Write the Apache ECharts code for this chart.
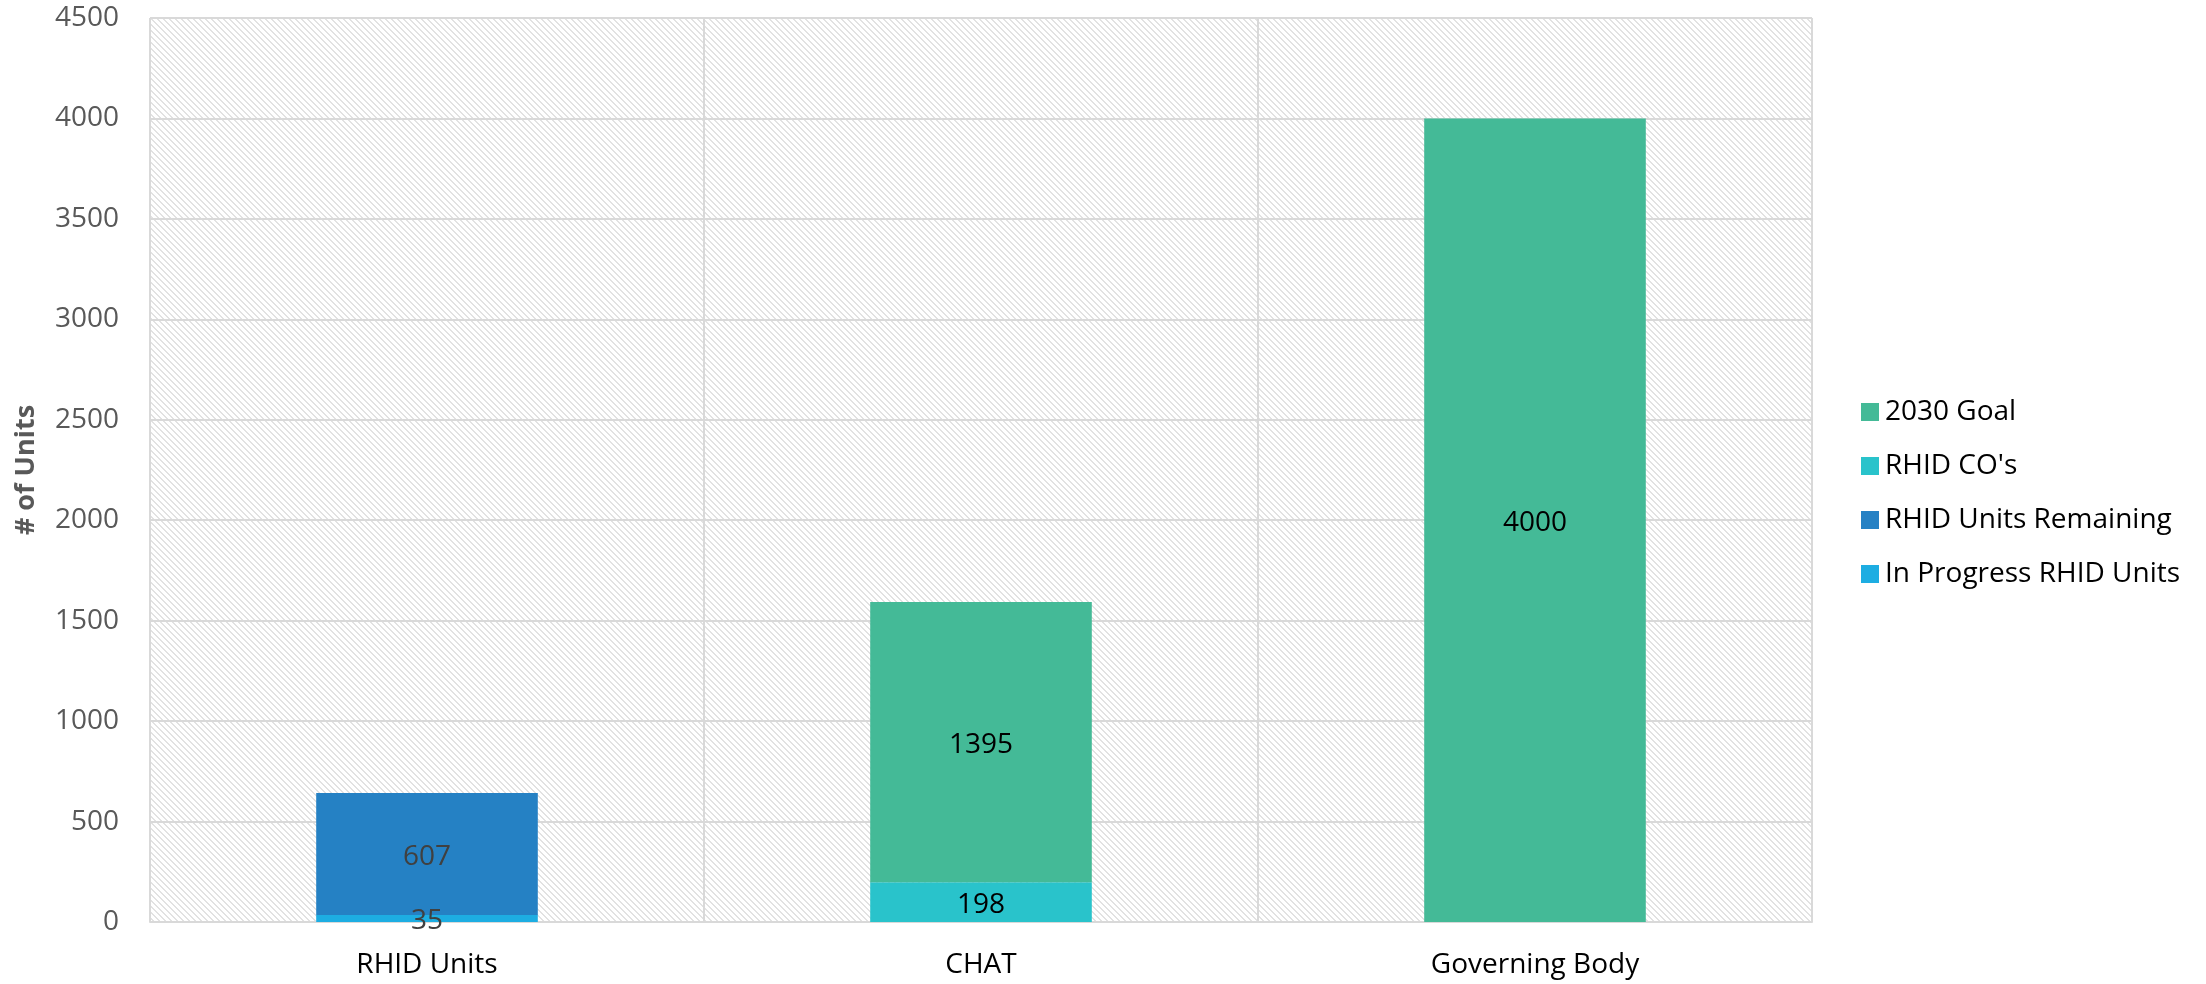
<!DOCTYPE html>
<html><head><meta charset="utf-8">
<script src="https://cdn.jsdelivr.net/npm/echarts@6/dist/echarts.min.js"></script>
<style>html,body{margin:0;padding:0;background:#fff}#c{width:2206px;height:984px}</style>
</head><body><div id="c"></div>
<script>
const categories = ['RHID Units', 'CHAT', 'Governing Body'];
const inProgress = [35, null, null];
const remaining = [607, null, null];
const rhidCOs = [null, 198, null];
const goal2030 = [null, 1395, 4000];
const yTicks = [0, 500, 1000, 1500, 2000, 2500, 3000, 3500, 4000, 4500];

const P = 6;
const cv = document.createElement('canvas');
cv.width = P; cv.height = P;
const cx = cv.getContext('2d');
cx.fillStyle = '#ffffff'; cx.fillRect(0,0,P,P);
cx.fillStyle = '#e2e2e2';
for (let i = 0; i < P; i++) { cx.fillRect(i, i, 1, 1); cx.fillRect((i+1)%P, i, 1, 1); }

const FONT = '"Open Sans", "Noto Sans", sans-serif';
const chart = echarts.init(document.getElementById('c'));
function lab(color){return {show:true,position:'inside',offset:[0,3],color:color,fontSize:28,fontFamily:FONT,formatter:p=>p.value==null?'':p.value};}
chart.setOption({
  animation:false,
  backgroundColor:'#fff',
  grid:{left:150,right:394,top:18,bottom:62,show:true,backgroundColor:{image:cv,repeat:'repeat'},borderColor:'#d9d9d9',borderWidth:1},
  legend:{orient:'vertical',left:1856,top:393,itemWidth:18,itemHeight:18,itemGap:26,
    textStyle:{fontSize:28,fontFamily:FONT,color:'#000',padding:[0,0,0,1]},
    data:['2030 Goal',"RHID CO's",'RHID Units Remaining','In Progress RHID Units'],
    icon:'rect'},
  xAxis:{type:'category',data:categories,
    axisLine:{lineStyle:{color:'#d9d9d9',width:2}},axisTick:{show:false},
    splitLine:{show:true,interval:0,lineStyle:{color:'#d9d9d9',width:2}},
    axisLabel:{fontSize:28,fontFamily:FONT,color:'#000',margin:29}},
  yAxis:{type:'value',min:0,max:4500,interval:500,
    name:'# of Units',nameLocation:'middle',nameGap:110,
    nameTextStyle:{fontSize:27,fontWeight:'bold',fontFamily:FONT,color:'#595959'},
    axisLine:{show:false},axisTick:{show:false},
    splitLine:{lineStyle:{color:'#d9d9d9',width:2}},
    axisLabel:{fontSize:28,fontFamily:FONT,color:'#595959',margin:31,
      formatter:v=>yTicks.includes(v)?String(v):''}},
  series:[
    {name:'In Progress RHID Units',type:'bar',stack:'s',data:inProgress,barWidth:'40%',itemStyle:{color:'#1DADE2'},label:lab('#404040')},
    {name:'RHID Units Remaining',type:'bar',stack:'s',data:remaining,itemStyle:{color:'#2581C4'},label:lab('#404040')},
    {name:"RHID CO's",type:'bar',stack:'s',data:rhidCOs,itemStyle:{color:'#29C3CB'},label:lab('#000')},
    {name:'2030 Goal',type:'bar',stack:'s',data:goal2030,itemStyle:{color:'#44BA97'},label:lab('#000')}
  ]
});
</script></body></html>
